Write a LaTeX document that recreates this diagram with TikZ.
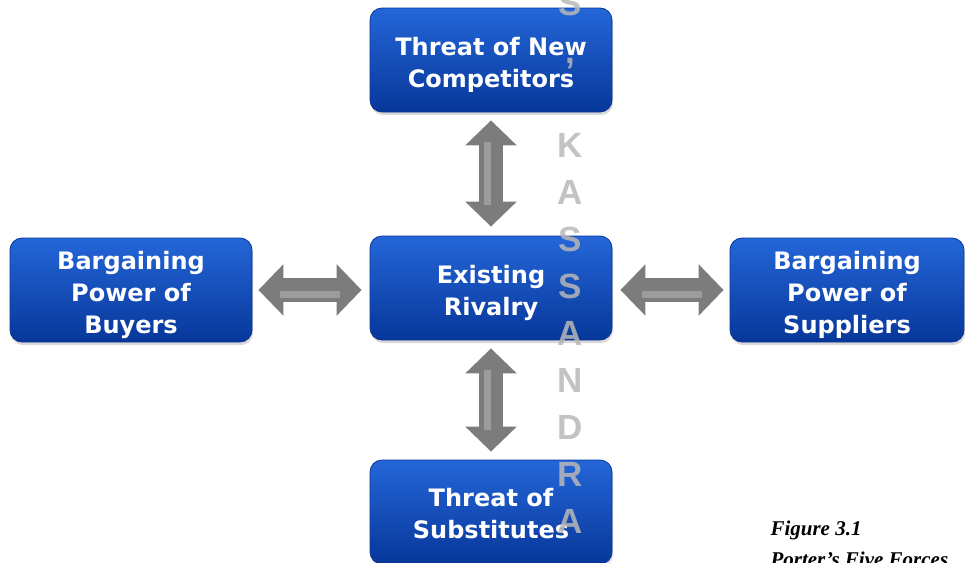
\documentclass[tikz,border=0pt]{standalone}
\usepackage{fontspec}
\setmainfont{DejaVu Sans}
\newfontfamily\markfont{Liberation Sans}
\newfontfamily\capfont{Liberation Serif}
\usetikzlibrary{arrows.meta, shadows, positioning}

\definecolor{boxtop}{HTML}{2466D8}
\definecolor{boxmid}{HTML}{0B4BC3}
\definecolor{boxbot}{HTML}{07379A}
\definecolor{boxedge}{HTML}{083594}
\definecolor{pushgray}{HTML}{7C7C7C}
\definecolor{pushlight}{HTML}{9C9C9C}
\definecolor{markgray}{HTML}{B8B8B8}

\tikzset{
	force/.style={rounded corners=12pt, minimum width=242pt, minimum height=104pt,
		top color=boxtop, middle color=boxmid, bottom color=boxbot,
		draw=boxedge, line width=0.8pt, text=white, align=center,
		font=\fontsize{24}{32}\selectfont\bfseries,
		text depth=0pt, text height=55pt,
		drop shadow={shadow xshift=1pt, shadow yshift=-3pt, opacity=0.3}},
	tallforce/.style={force, text height=87pt},
	push/.style={draw=pushgray, line width=24pt,
		{Triangle[width=50pt,length=25pt]}-{Triangle[width=50pt,length=25pt]}},
	pushglow/.style={draw=pushlight, line width=7pt},
	markletter/.style={text=markgray, opacity=0.85, anchor=base,
		font=\markfont\bfseries\fontsize{35}{35}\selectfont}
}

\begin{document}
\begin{tikzpicture}[x=1pt, y=-1pt]
	\useasboundingbox (0,0) rectangle (965,562);

	%the five forces
	\node (comp) [force] at (491,60) {Threat of New\\Competitors};
	\node (rival) [force] at (491,288) {Existing\\Rivalry};
	\node (buyer) [tallforce] at (131,290) {Bargaining\\Power of\\Buyers};
	\node (supp) [tallforce, minimum width=234pt] at (847,290) {Bargaining\\Power of\\Suppliers};
	\node (subs) [force, text height=53pt] at (491,512) {Threat of\\Substitutes};

	%arrows
	\draw [push] ([yshift=-8pt]comp.south) -- ([yshift=9pt]rival.north);
	\draw [push] ([yshift=-8pt]rival.south) -- ([yshift=8pt]subs.north);
	\draw [push] ([xshift=6pt]buyer.east) -- ([xshift=-8pt]buyer.east -| rival.west);
	\draw [push] ([xshift=8pt]supp.west -| rival.east) -- ([xshift=-6pt]supp.west);

	%highlights on the shafts
	\draw [pushglow] ([xshift=-4pt, yshift=-30pt]comp.south) -- ([xshift=-4pt, yshift=31pt]rival.north);
	\draw [pushglow] ([xshift=-4pt, yshift=-30pt]rival.south) -- ([xshift=-4pt, yshift=30pt]subs.north);
	\draw [pushglow] ([xshift=28pt, yshift=-4pt]buyer.east) -- ([xshift=-30pt, yshift=-4pt]buyer.east -| rival.west);
	\draw [pushglow] ([xshift=30pt, yshift=-4pt]supp.west -| rival.east) -- ([xshift=-28pt, yshift=-4pt]supp.west);

	%watermark
	\foreach \n/\ch in {0/S, 1/{,}, 3/K, 4/A, 5/S, 6/S, 7/A, 8/N, 9/D, 10/R, 11/A}
		\node (mark\n) [markletter] at (570, 16+47*\n) {\ch};

	%caption
	\node (cap1) [anchor=base west, font=\capfont\bfseries\itshape\fontsize{21}{26}\selectfont] at (767,535) {Figure 3.1};
	\node (cap2) [anchor=base west, font=\capfont\bfseries\itshape\fontsize{21}{26}\selectfont] at (767,566) {Porter’s Five Forces};
\end{tikzpicture}
\end{document}
